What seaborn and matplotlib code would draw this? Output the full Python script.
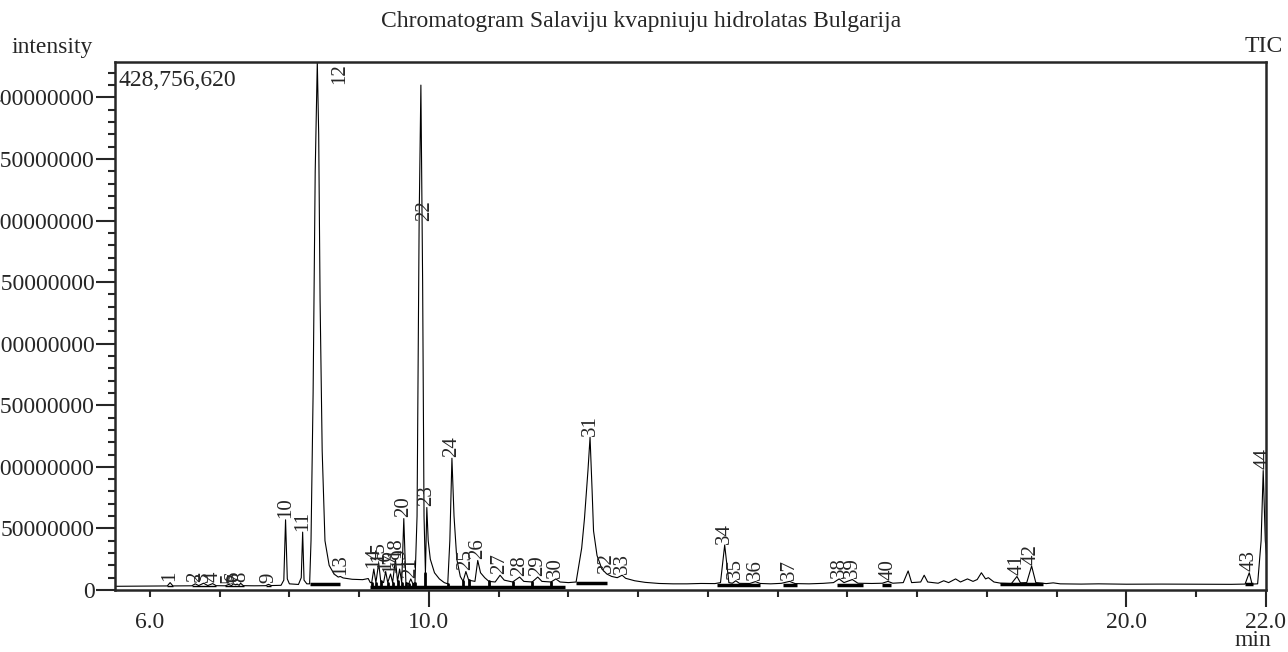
import numpy as np
import matplotlib
matplotlib.use('Agg')
import matplotlib.pyplot as plt
import seaborn as sns

# retention time (min) / intensity (millions)
rt = [5.50, 5.8, 6.1, 6.25, 6.29, 6.33, 6.6, 6.65, 6.70, 6.77, 6.83, 6.90, 6.95,
      7.08, 7.13, 7.17, 7.20, 7.23, 7.25, 7.28, 7.30, 7.34, 7.5, 7.66, 7.70, 7.74,
      7.88, 7.92, 7.945, 7.97, 8.0, 8.13, 8.17, 8.19, 8.21, 8.25, 8.29, 8.31, 8.34,
      8.37, 8.40, 8.42, 8.44, 8.47, 8.51, 8.57, 8.64, 8.70, 8.73, 8.77, 8.9, 9.05,
      9.13, 9.16, 9.18, 9.21, 9.24, 9.28, 9.31, 9.35, 9.38, 9.41, 9.45, 9.48, 9.52,
      9.55, 9.58, 9.61, 9.64, 9.67, 9.71, 9.74, 9.77, 9.80, 9.83, 9.86, 9.885, 9.91,
      9.93, 9.95, 9.97, 9.99, 10.02, 10.08, 10.15, 10.22, 10.27, 10.30, 10.33, 10.36,
      10.40, 10.45, 10.49, 10.53, 10.57, 10.66, 10.70, 10.74, 10.80, 10.86, 10.95,
      11.02, 11.08, 11.2, 11.30, 11.36, 11.48, 11.56, 11.62, 11.75, 11.82, 11.88,
      12.0, 12.11, 12.19, 12.23, 12.28, 12.31, 12.34, 12.36, 12.41, 12.48, 12.55,
      12.62, 12.70, 12.77, 12.82, 12.95, 13.1, 13.3, 13.5, 13.7, 13.9, 14.1, 14.18,
      14.24, 14.30, 14.35, 14.40, 14.45, 14.6, 14.68, 14.75, 14.9, 15.05, 15.17,
      15.25, 15.45, 15.65, 15.8, 15.88, 15.95, 16.07, 16.15, 16.35, 16.5, 16.58,
      16.65, 16.8, 16.87, 16.92, 17.05, 17.10, 17.15, 17.3, 17.38, 17.45, 17.55,
      17.62, 17.72, 17.8, 17.86, 17.92, 17.98, 18.02, 18.1, 18.2, 18.35, 18.43,
      18.48, 18.57, 18.64, 18.70, 18.85, 18.95, 19.05, 19.35, 19.6, 20.0, 20.5, 21.0,
      21.5, 21.70, 21.76, 21.80, 21.88, 21.93, 21.96, 21.99, 22.02]
intensity = [3.0, 3.1, 3.2, 3.3, 6.0, 3.3, 3.4, 5.0, 3.6, 5.5, 3.6, 5.2, 3.5,
             3.4, 4.5, 3.6, 5.0, 4.2, 4.8, 3.8, 5.5, 3.5, 3.4, 3.5, 4.6, 3.6,
             3.8, 8.0, 57.0, 9.0, 5.0, 4.5, 10.0, 47.0, 8.0, 5.0, 5.0, 40.0, 160.0,
             340.0, 428.75662, 370.0, 235.0, 113.0, 40.0, 20.0, 13.0, 10.5, 11.0, 9.8, 8.7, 8.4,
             9.3, 6.0, 6.0, 17.0, 6.0, 22.0, 7.0, 6.0, 15.0, 6.0, 13.0, 6.0, 25.0,
             7.0, 17.0, 6.0, 58.0, 6.0, 5.0, 9.0, 5.0, 6.0, 60.0, 300.0, 410.0, 250.0,
             60.0, 14.0, 67.0, 40.0, 25.0, 14.0, 9.0, 6.0, 5.0, 40.0, 107.0, 60.0,
             25.0, 11.0, 7.0, 15.0, 8.0, 7.0, 24.0, 14.0, 10.0, 7.0, 6.5,
             12.0, 8.0, 6.5, 10.5, 7.0, 6.5, 10.5, 7.0, 6.5, 9.0, 6.5,
             6.0, 6.5, 34.0, 58.0, 97.0, 124.0, 80.0, 48.0, 28.0, 17.0, 13.0,
             11.0, 10.0, 12.0, 9.5, 7.5, 6.2, 5.3, 5.0, 5.0, 5.3, 5.2, 6.0,
             36.5, 6.0, 5.5, 7.5, 5.4, 5.3, 6.8, 5.3, 5.0, 5.4, 7.0,
             5.2, 5.0, 5.4, 6.0, 9.0, 6.0, 8.5, 5.5, 5.3, 5.5, 7.0,
             5.5, 6.0, 15.5, 6.0, 6.5, 12.0, 6.5, 5.5, 7.5, 6.0, 9.0,
             6.5, 9.0, 7.0, 8.5, 14.0, 9.0, 10.0, 6.5, 5.5, 5.2, 11.0,
             5.8, 6.0, 19.5, 6.0, 5.2, 5.8, 5.0, 4.8, 5.0, 4.7, 4.8, 4.7,
             4.6, 4.8, 14.0, 4.8, 5.0, 40.0, 97.0, 40.0, 20.0]

peak_ids = list(range(1, 45))
peak_rt = [6.29, 6.65, 6.77, 6.90, 7.13, 7.20, 7.24, 7.30, 7.70, 7.945, 8.19, 8.40,
           8.73, 9.21, 9.28, 9.38, 9.45, 9.52, 9.58, 9.64, 9.74, 9.885, 9.97, 10.33,
           10.53, 10.70, 11.02, 11.30, 11.56, 11.82, 12.31, 12.55, 12.77, 14.24, 14.40,
           14.68, 15.17, 15.88, 16.07, 16.58, 18.43, 18.64, 21.76, 21.96]

# integration baselines (start, end, level in millions)
base_start = [6.25, 6.60, 7.08, 7.66, 8.30, 9.16, 12.11, 14.13, 15.07, 15.85, 16.49, 18.18, 21.70]
base_end = [6.33, 6.95, 7.35, 7.74, 8.73, 11.95, 12.55, 14.74, 15.27, 16.22, 16.63, 18.80, 21.82]
base_level = [3.0, 3.2, 3.2, 3.3, 5.0, 2.8, 6.0, 4.0, 4.2, 4.2, 4.2, 5.0, 4.5]
drop_rt = [9.18, 9.24, 9.31, 9.41, 9.48, 9.55, 9.61, 9.67, 9.71, 9.77, 9.80, 9.95,
           10.27, 10.49, 10.57, 10.86, 11.2, 11.48, 11.75]

max_label = '428,756,620'

sns.set_style('ticks')
plt.rcParams['font.family'] = ['Liberation Serif', 'DejaVu Serif']
plt.rcParams['font.size'] = 17

fig = plt.figure(figsize=(12.88, 6.52), dpi=100)
ax = fig.add_axes([115 / 1288, 1 - 590 / 652, 1151 / 1288, 528 / 652])

y = np.array(intensity) * 1e6
sns.lineplot(x=rt, y=y, ax=ax, color='black', linewidth=0.8, sort=False)

for s, e, lv in zip(base_start, base_end, base_level):
    lw = 2.5 if s > 8 else 1.0
    ax.plot([s, e], [lv * 1e6, lv * 1e6], color='black', linewidth=lw, solid_capstyle='butt')
for d in drop_rt:
    ax.plot([d, d], [2.8e6, np.interp(d, rt, y)], color='black', linewidth=2)

for pid, prt in zip(peak_ids, peak_rt):
    h = np.interp(prt, rt, y)
    if pid == 12:
        ax.text(8.72, 428.0e6, str(pid), rotation=90, ha='center', va='top', fontsize=15)
    elif pid == 22:
        ax.text(9.935, 300e6, str(pid), rotation=90, ha='center', va='bottom', fontsize=15)
    else:
        ax.annotate(str(pid), (prt, h), xytext=(0, 1), textcoords='offset points',
                    rotation=90, ha='center', va='bottom', fontsize=15)

ax.set_xlim(5.5, 22.0)
ax.set_ylim(0, 428.75662e6)
ax.set_xticks([6, 10, 20, 22])
ax.set_xticklabels(['6.0', '10.0', '20.0', '22.0'])
ax.set_xticks(np.arange(6, 23, 1), minor=True)
ax.set_yticks(np.arange(0, 400000001, 50000000))
ax.set_yticklabels([str(v) for v in range(0, 400000001, 50000000)])
ax.set_yticks(np.arange(0, 428000001, 10000000), minor=True)
ax.tick_params(axis='x', which='major', length=12, width=1.5, pad=3.5, labelsize=17)
ax.tick_params(axis='x', which='minor', length=5, width=1.5)
ax.tick_params(axis='y', which='major', length=14, width=1.5, pad=0.5, labelsize=17)
ax.tick_params(axis='y', which='minor', length=5, width=1.5)
ax.xaxis.get_major_ticks()[0].tick1line.set_markersize(5)
ax.set_xlabel('')
ax.set_ylabel('')
for sp in ax.spines.values():
    sp.set_linewidth(1.8)
    sp.set_visible(True)

ax.text(0.003, 0.985, max_label, transform=ax.transAxes, ha='left', va='top', fontsize=17)
fig.text(641 / 1288, 1 - 22 / 652, 'Chromatogram Salaviju kvapniuju hidrolatas Bulgarija',
         ha='center', va='center', fontsize=17)
fig.text(11 / 1288, 1 - 47 / 652, 'intensity', ha='left', va='center', fontsize=17)
fig.text(1283 / 1288, 1 - 47 / 652, 'TIC', ha='right', va='center', fontsize=17)
fig.text(1253 / 1288, 1 - 640 / 652, 'min', ha='center', va='center', fontsize=17)

fig.savefig('out.png', dpi=100)
